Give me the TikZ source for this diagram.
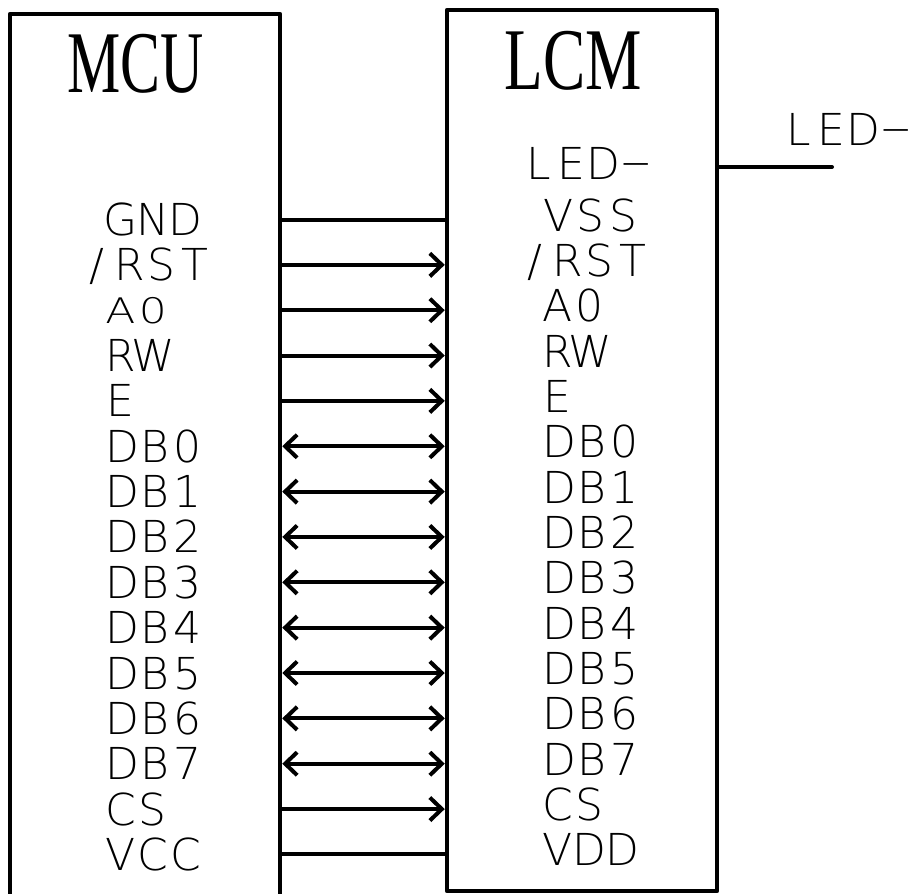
\documentclass[tikz,border=0pt]{standalone}
\usepackage{fontspec}
\usetikzlibrary{arrows.meta}
\newfontfamily\cadfont{DejaVuSans-ExtraLight}[Extension=.ttf]
\newfontfamily\titlefont{Liberation Serif}
\makeatletter
\def\cadtxt#1{\edef\cad@tmp{#1}\expandafter\cad@loop\cad@tmp\@nil}
\def\cad@loop#1{\ifx#1\@nil\else
  \ifx#1-\makebox[32.5pt]{\raisebox{3pt}{\scalebox{2.1}[1]{-}}}\else\makebox[32.5pt]{#1}\fi
  \expandafter\cad@loop\fi}
\makeatother
\begin{document}
\begin{tikzpicture}[x=1pt,y=-1pt,
  box/.style={draw, line width=4.5pt, line join=round, inner sep=0pt},
  ttl/.style={inner sep=0pt, font=\titlefont\fontsize{88}{90}\selectfont},
  lbl/.style={inner sep=0pt, anchor=base west, font=\cadfont\fontsize{44}{46}\selectfont},
  wire/.style={line width=4pt},
  tipb/.tip={Straight Barb[length=12pt,width=23pt]},
  sig/.style={wire, -tipb},
  bus/.style={wire, tipb-tipb}]
\useasboundingbox (0,0) rectangle (913,894);
\clip (0,0) rectangle (913,894);
% boxes
\node[box, minimum width=270pt, minimum height=960pt] (mcu) at (145,494) {};
\node[box, minimum width=270pt, minimum height=881pt] (lcm) at (582,450.5) {};
% titles
\node[ttl] (mcut) at (135.5,64) {\scalebox{0.68}[1]{MCU}};
\node[ttl] (lcmt) at (573.5,60.5) {\scalebox{0.72}[1]{LCM}};
% rows
\foreach \i in {0,...,14} {\coordinate (r\i) at (0,{219.5+45.35*\i});}
% MCU labels (baseline = row + 16)
\foreach \t/\i/\xx in {GND/0/104, RW/3/104, E/4/104,
   DB0/5/106, DB1/6/106, DB2/7/106, DB3/8/106, DB4/9/106, DB5/10/106,
   DB6/11/106, DB7/12/106, CS/13/104, VCC/14/104}
  {\node[lbl] (m\t) at (\xx,{219.5+45.35*\i+16}) {\cadtxt{\t}};}
\node[lbl] (mRST) at (80.5,{219.5+45.35+16}) {\cadtxt{/RST}};
\node[lbl] (mA0) at (104,{219.5+45.35*2+12.8}) {\scalebox{1}[0.8]{\cadtxt{A0}}};
% LCM labels (baseline = row + 11.5)
\node[lbl] (lLED) at (522,179) {\cadtxt{LED-}};
\foreach \t/\i/\xx in {VSS/0/542, A0/2/541, RW/3/541, E/4/541,
   DB0/5/543, DB1/6/543, DB2/7/543, DB3/8/543, DB4/9/543, DB5/10/543,
   DB6/11/543, DB7/12/543, CS/13/541, VDD/14/541}
  {\node[lbl] (l\t) at (\xx,{219.5+45.35*\i+11.5}) {\cadtxt{\t}};}
\node[lbl] (lRST) at (518.5,{219.5+45.35+11.5}) {\cadtxt{/RST}};
% external LED-
\node[lbl] (extled) at (782,145) {\cadtxt{LED-}};
\coordinate (ledrow) at (0,167);
\coordinate (ledend) at (832,167);
\draw[wire, line cap=round] (lcm.east |- ledrow) -- (ledend);
% connectors
\draw[wire] (mcu.east |- r0) -- (lcm.west |- r0);
\foreach \i in {1,...,4} {\draw[sig] (mcu.east |- r\i) -- (lcm.west |- r\i);}
\foreach \i in {5,...,12} {\draw[bus] (mcu.east |- r\i) -- (lcm.west |- r\i);}
\draw[sig] (mcu.east |- r13) -- (lcm.west |- r13);
\draw[wire] (mcu.east |- r14) -- (lcm.west |- r14);
\end{tikzpicture}
\end{document}
